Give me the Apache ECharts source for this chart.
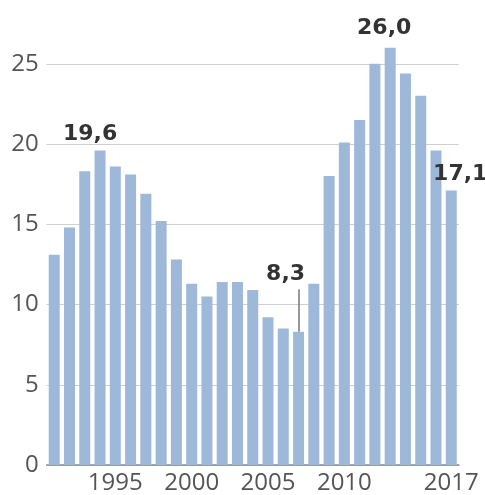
<!DOCTYPE html>
<html>
<head>
<meta charset="utf-8">
<script src="https://cdn.jsdelivr.net/npm/echarts@6/dist/echarts.min.js"></script>
<style>
  html, body { margin: 0; padding: 0; background: #fff; }
  #chart { width: 485px; height: 495px; }
</style>
</head>
<body>
<div id="chart"></div>
<script>
// Yearly values, 1991–2017
const years = ['1991','1992','1993','1994','1995','1996','1997','1998','1999','2000',
               '2001','2002','2003','2004','2005','2006','2007','2008','2009','2010',
               '2011','2012','2013','2014','2015','2016','2017'];
const values = [13.1, 14.8, 18.3, 19.6, 18.6, 18.1, 16.9, 15.2, 12.8, 11.3,
                10.5, 11.4, 11.4, 10.9, 9.2, 8.5, 8.3, 11.3, 18.0, 20.1,
                21.5, 25.0, 26.0, 24.4, 23.0, 19.6, 17.1];
// Years shown on the horizontal axis
const yearTicks = ['1995', '2000', '2005', '2010', '2017'];
// Years whose value is written above the bar
const labelledYears = ['1994', '2007', '2013', '2017'];

const fmt = v => v.toFixed(1).replace('.', ',');

// per-label nudges so the numbers sit clear of neighbouring bars
const labelStyle = {
  '1994': { offset: [-10, 0], distance: 5 },
  '2007': { offset: [-13, 0], distance: 47 },
  '2013': { offset: [-6, 0], distance: 8 },
  '2017': { offset: [9, 0], distance: 5 }
};

const barData = values.map((v, i) => {
  const y = years[i];
  if (!labelledYears.includes(y)) return v;
  const s = labelStyle[y];
  return {
    value: v,
    label: {
      show: true,
      position: 'top',
      distance: s.distance,
      offset: s.offset,
      formatter: p => fmt(p.value),
      fontFamily: 'DejaVu Sans',
      fontWeight: 'bold',
      fontSize: 22,
      color: '#333'
    }
  };
});

const chart = echarts.init(document.getElementById('chart'), null, { renderer: 'canvas' });
chart.setOption({
  animation: false,
  backgroundColor: '#fff',
  grid: {
    left: 46.6, right: 26.1, top: -16.5, bottom: 30,
    containLabel: false,
    outerBoundsMode: 'none'
  },
  xAxis: {
    type: 'category',
    data: years,
    boundaryGap: true,
    axisLine: { show: true, lineStyle: { color: '#8a8a8a', width: 1.5 } },
    axisTick: { show: false },
    axisLabel: {
      interval: (idx, val) => yearTicks.includes(val),
      margin: 6,
      fontFamily: 'Open Sans',
      fontSize: 24,
      color: '#555'
    }
  },
  yAxis: {
    type: 'value',
    min: 0,
    max: 30,
    interval: 5,
    axisLine: { show: false },
    axisTick: { show: false },
    splitLine: { show: true, lineStyle: { color: '#cfcfcf', width: 1 } },
    axisLabel: {
      margin: 8,
      fontFamily: 'Open Sans',
      fontSize: 24,
      color: '#555'
    }
  },
  series: [{
    type: 'bar',
    data: barData,
    barCategoryGap: '28%',
    itemStyle: { color: '#9db8d9' },
    markLine: {
      silent: true,
      symbol: 'none',
      label: { show: false },
      lineStyle: { color: '#777', width: 1.5, type: 'solid' },
      data: [[
        { coord: ['2007', 8.3] },
        { coord: ['2007', 10.95] }
      ]]
    }
  }]
});
</script>
</body>
</html>
